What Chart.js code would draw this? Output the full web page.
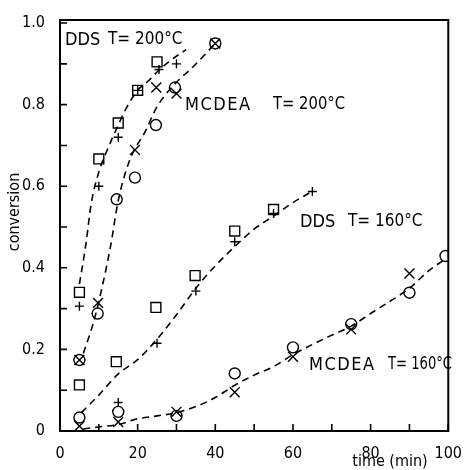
<!DOCTYPE html>
<html>
<head>
<meta charset="utf-8">
<script src="https://cdn.jsdelivr.net/npm/chart.js@4/dist/chart.umd.min.js"></script>
<style>
  html, body { margin: 0; padding: 0; background: #fff; }
  #wrap { width: 467px; height: 470px; }
</style>
</head>
<body>
<div id="wrap"><canvas id="myChart" width="467" height="470"></canvas></div>
<script>
// ticks
const xTicks = [0, 20, 40, 60, 80, 100];
const xMinor = [10, 30, 50, 70, 90];
const yTicks = [0, 0.2, 0.4, 0.6, 0.8, 1.0];
const yMinor = [0.1, 0.3, 0.5, 0.7, 0.9];

// DDS, T = 200 C
const dds200SqX = [5, 10, 15, 20, 25];
const dds200SqY = [0.34, 0.667, 0.755, 0.835, 0.905];
const dds200PlX = [5, 10, 15, 20, 25.5, 30];
const dds200PlY = [0.306, 0.60, 0.72, 0.835, 0.886, 0.90];
const dds200FitX = [5, 6.7, 8, 10, 12, 15, 17, 20, 23, 25, 28, 32.5];
const dds200FitY = [0.36, 0.46, 0.555, 0.635, 0.685, 0.75, 0.79, 0.835, 0.86, 0.88, 0.905, 0.935];

// MCDEA, T = 200 C
const mc200CiX = [5, 9.7, 14.6, 19.3, 24.7, 29.6, 40];
const mc200CiY = [0.174, 0.288, 0.568, 0.621, 0.75, 0.842, 0.95];
const mc200CrX = [5, 9.8, 19.3, 24.8, 30, 40];
const mc200CrY = [0.174, 0.314, 0.689, 0.842, 0.827, 0.95];
const mc200FitX = [6, 8.5, 10.5, 13, 15, 18, 22, 25, 30, 34, 40];
const mc200FitY = [0.19, 0.262, 0.338, 0.452, 0.565, 0.665, 0.735, 0.795, 0.855, 0.89, 0.95];

// DDS, T = 160 C
const dds160SqX = [5, 14.5, 24.7, 34.8, 45, 55];
const dds160SqY = [0.113, 0.17, 0.303, 0.381, 0.49, 0.543];
const dds160PlX = [15, 25, 35, 45, 55, 65];
const dds160PlY = [0.07, 0.215, 0.343, 0.464, 0.533, 0.587];
const dds160FitX = [5.5, 10, 15, 20, 25, 30, 35, 40, 45, 50, 55, 60, 64.5];
const dds160FitY = [0.045, 0.088, 0.14, 0.175, 0.225, 0.285, 0.35, 0.405, 0.452, 0.495, 0.527, 0.56, 0.585];

// MCDEA, T = 160 C
const mc160CiX = [5, 15, 30, 45, 60, 75, 90, 99.3];
const mc160CiY = [0.033, 0.047, 0.037, 0.141, 0.205, 0.262, 0.339, 0.429];
const mc160CrX = [5, 15, 30, 45, 60, 75, 90];
const mc160CrY = [0.012, 0.022, 0.047, 0.095, 0.182, 0.249, 0.386];
const mc160FitX = [6, 10, 15, 20, 25, 30, 35, 40, 45, 50, 55, 60, 65, 70, 75, 80, 85, 90, 95, 99];
const mc160FitY = [0.005, 0.01, 0.016, 0.03, 0.037, 0.045, 0.06, 0.082, 0.112, 0.137, 0.158, 0.187, 0.212, 0.235, 0.257, 0.288, 0.318, 0.35, 0.393, 0.42];

const FONT = '"DejaVu Sans Condensed", "Liberation Sans Narrow", "DejaVu Sans", sans-serif';

function pts(xs, ys) {
  return xs.map((x, i) => ({ x: x, y: ys[i] }));
}

function markers(xs, ys, style, r) {
  return {
    data: pts(xs, ys),
    showLine: false,
    pointStyle: style,
    pointRadius: r,
    pointBorderColor: '#000',
    pointBackgroundColor: 'rgba(0,0,0,0)',
    pointBorderWidth: 1.4
  };
}

function fit(xs, ys) {
  return {
    data: pts(xs, ys),
    showLine: true,
    borderColor: '#000',
    borderWidth: 1.6,
    borderDash: [7, 5],
    pointRadius: 0,
    cubicInterpolationMode: 'monotone',
    fill: false
  };
}

const frameAndText = {
  id: 'frameAndText',
  afterDraw(chart) {
    const ctx = chart.ctx;
    const a = chart.chartArea;
    const xs = chart.scales.x, ys = chart.scales.y;
    ctx.save();
    ctx.strokeStyle = '#000';
    ctx.lineWidth = 2;
    ctx.strokeRect(a.left, a.top, a.right - a.left, a.bottom - a.top);

    // inward ticks
    ctx.lineWidth = 1.6;
    ctx.beginPath();
    xTicks.concat(xMinor).forEach(v => {
      const px = xs.getPixelForValue(v);
      ctx.moveTo(px, a.bottom);
      ctx.lineTo(px, a.bottom - 7);
    });
    yTicks.concat(yMinor).forEach(v => {
      const py = ys.getPixelForValue(v);
      ctx.moveTo(a.left, py);
      ctx.lineTo(a.left + 7, py);
    });
    ctx.stroke();

    ctx.fillStyle = '#000';
    ctx.textBaseline = 'middle';
    ctx.font = '18px ' + FONT;
    ctx.textAlign = 'left';
    ctx.fillText('DDS', 65, 40);
    ctx.fillText('DDS', 300, 222);
    ctx.letterSpacing = '1.5px';
    ctx.fillText('MCDEA', 185, 105);
    ctx.fillText('MCDEA', 309, 365);
    ctx.letterSpacing = '0px';
    ctx.font = '17px ' + FONT;
    ctx.fillText('T= 200°C', 108, 40, 85);
    ctx.fillText('T= 200°C', 273, 105, 72);
    ctx.fillText('T= 160°C', 348, 222, 75);
    ctx.fillText('T= 160°C', 388, 365, 64);

    ctx.font = '16px ' + FONT;
    ctx.textAlign = 'center';
    ctx.fillText('time (min)', 390, 462);
    ctx.translate(15, 212);
    ctx.rotate(-Math.PI / 2);
    ctx.fillText('conversion', 0, 0);
    ctx.restore();
  }
};

const ctx = document.getElementById('myChart').getContext('2d');
new Chart(ctx, {
  type: 'scatter',
  data: {
    datasets: [
      fit(dds200FitX, dds200FitY),
      fit(mc200FitX, mc200FitY),
      fit(dds160FitX, dds160FitY),
      fit(mc160FitX, mc160FitY),
      markers(dds200SqX, dds200SqY, 'rect', 7),
      markers(dds200PlX, dds200PlY, 'cross', 4.5),
      markers(mc200CiX, mc200CiY, 'circle', 5.5),
      markers(mc200CrX, mc200CrY, 'crossRot', 7),
      markers(dds160SqX, dds160SqY, 'rect', 7),
      markers(dds160PlX, dds160PlY, 'cross', 4.5),
      markers(mc160CiX, mc160CiY, 'circle', 5.5),
      markers(mc160CrX, mc160CrY, 'crossRot', 7)
    ]
  },
  options: {
    responsive: false,
    animation: false,
    layout: { padding: { left: 0, top: 20, right: 9, bottom: 0 } },
    plugins: {
      legend: { display: false },
      tooltip: { enabled: false }
    },
    scales: {
      x: {
        type: 'linear',
        min: 0,
        max: 100,
        afterBuildTicks: s => { s.ticks = xTicks.map(v => ({ value: v })); },
        afterFit: s => { s.height = 39; },
        grid: { display: false },
        border: { display: false },
        ticks: {
          color: '#000',
          padding: 5,
          maxRotation: 0,
          font: { family: FONT, size: 16 }
        }
      },
      y: {
        type: 'linear',
        min: 0,
        max: 1.0075,
        afterBuildTicks: s => { s.ticks = yTicks.map(v => ({ value: v })); },
        afterFit: s => { s.width = 60; },
        grid: { display: false },
        border: { display: false },
        ticks: {
          color: '#000',
          padding: 7,
          font: { family: FONT, size: 16 },
          callback: v => v === 0 ? '0' : v.toFixed(1)
        }
      }
    }
  },
  plugins: [frameAndText]
});
</script>
</body>
</html>
